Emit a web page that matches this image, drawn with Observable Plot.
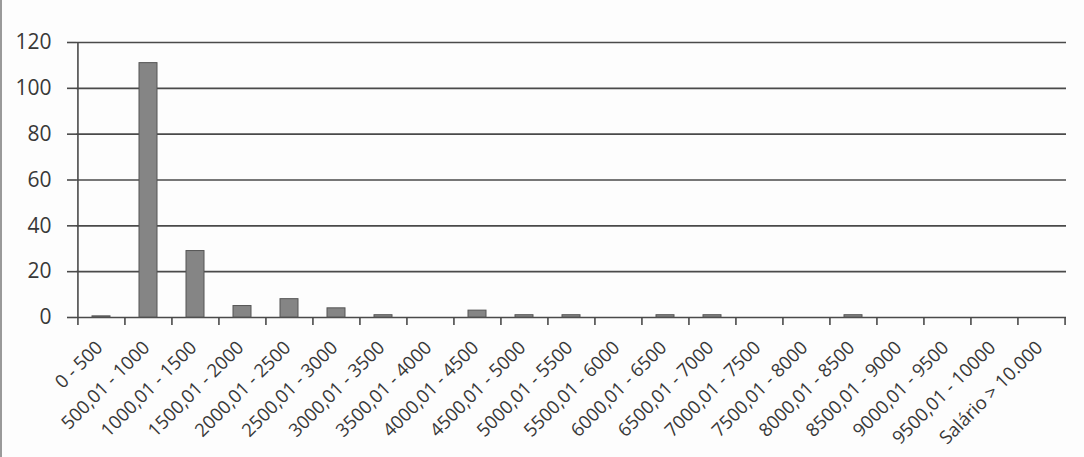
<!DOCTYPE html>
<html>
<head>
<meta charset="utf-8">
<script src="https://cdn.jsdelivr.net/npm/d3@7"></script>
<script src="https://cdn.jsdelivr.net/npm/@observablehq/plot@0.6"></script>
<style>
  html, body { margin: 0; padding: 0; background: #fdfdfd; }
  #chart { width: 1084px; height: 457px; border-left: 2px solid #9a9a9a; box-sizing: border-box; overflow: hidden; }
</style>
</head>
<body>
<div id="chart"></div>
<script>
const categories = ["0 - 500", "500,01 - 1000", "1000,01 - 1500", "1500,01 - 2000", "2000,01 - 2500",
  "2500,01 - 3000", "3000,01 - 3500", "3500,01 - 4000", "4000,01 - 4500", "4500,01 - 5000",
  "5000,01 - 5500", "5500,01 - 6000", "6000,01 - 6500", "6500,01 - 7000", "7000,01 - 7500",
  "7500,01 - 8000", "8000,01 - 8500", "8500,01 - 9000", "9000,01 - 9500", "9500,01 - 10000",
  "Salário > 10.000"];
const counts = [0.5, 111, 29, 5, 8, 4, 1, 0, 3, 1, 1, 0, 1, 1, 0, 0, 1, 0, 0, 0, 0];
const yTicks = [0, 20, 40, 60, 80, 100, 120];

const data = categories.map((c, i) => ({ faixa: c, n: counts[i] }));

const W = 1082, mL = 74, mR = 18;
const step = (W - mL - mR) / categories.length;

const plot = Plot.plot({
  width: W,
  height: 457,
  marginLeft: mL,
  marginRight: mR,
  marginTop: 42,
  marginBottom: 140,
  style: { fontFamily: "'Open Sans', sans-serif", background: "transparent", color: "#333", overflow: "visible" },
  x: { domain: categories, paddingInner: 0.62, paddingOuter: 0.31, label: null, axis: null },
  y: { domain: [0, 120], label: null, axis: null },
  marks: [
    Plot.ruleY(yTicks, { y: d => d, stroke: "#4a4a4a", strokeWidth: 1.6 }),
    Plot.ruleX([categories[0]], { x: d => d, dx: -step / 2, y1: 0, y2: 120, stroke: "#4a4a4a", strokeWidth: 1.6 }),
    Plot.ruleX(categories, { x: d => d, dx: -step / 2, y1: 0, y2: -3.5, stroke: "#4a4a4a", strokeWidth: 1.6 }),
    Plot.ruleX([categories[categories.length - 1]], { x: d => d, dx: step / 2, y1: 0, y2: -3.5, stroke: "#4a4a4a", strokeWidth: 1.6 }),
    Plot.barY(data, { x: "faixa", y: "n", fill: "#858585", stroke: "#555", strokeWidth: 1 }),
    Plot.axisY({ ticks: yTicks, tickSize: 9, tickFormat: () => "", stroke: "#4a4a4a", strokeWidth: 1.6, label: null }),
    Plot.text(yTicks, { frameAnchor: "left", y: d => d, text: d => String(d), textAnchor: "end", dx: -25, fontSize: 21, fill: "#383838" }),
    Plot.text(categories, { x: d => d, y: 0, text: d => d, rotate: -45, textAnchor: "end", dy: 27, dx: -2, fontSize: 18.5, fill: "#383838" })
  ]
});
document.getElementById("chart").appendChild(plot);
</script>
</body>
</html>
